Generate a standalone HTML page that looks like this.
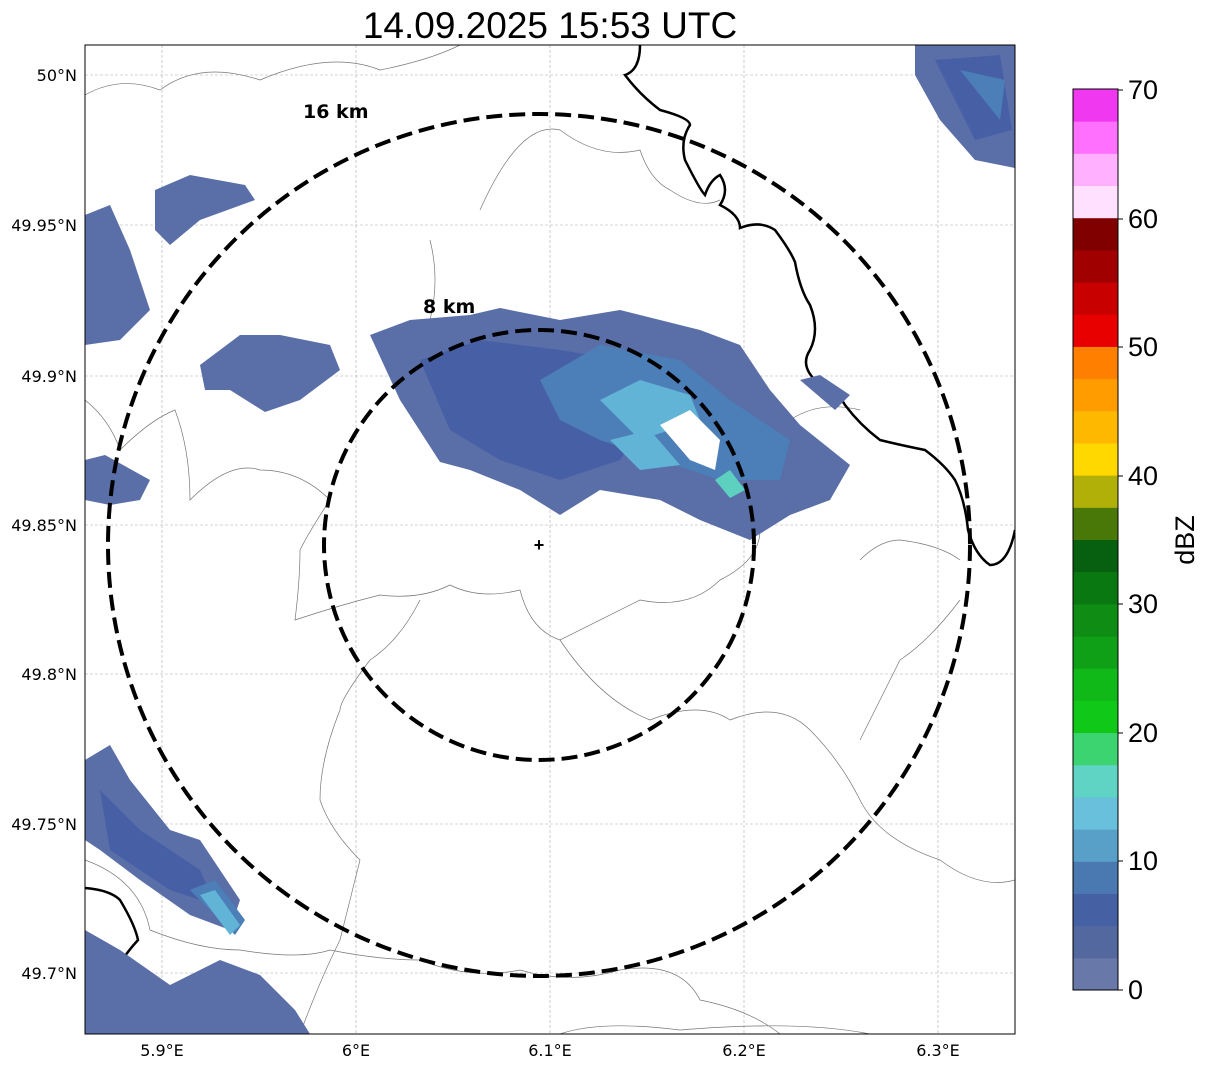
<!DOCTYPE html>
<html><head><meta charset="utf-8"><style>
body{margin:0;background:#fff;width:1207px;height:1069px;overflow:hidden;font-family:"Liberation Sans",sans-serif}
</style></head><body>
<svg width="1207" height="1069" xmlns="http://www.w3.org/2000/svg" font-family="Liberation Sans, sans-serif">
<text x="550" y="38" font-size="37" text-anchor="middle">14.09.2025 15:53 UTC</text>
<defs><clipPath id="c"><rect x="85" y="45" width="930" height="989"/></clipPath></defs>
<g clip-path="url(#c)">
<g stroke="#aaa" stroke-width="0.6" stroke-dasharray="3,2">
<line x1="162" y1="45" x2="162" y2="1034"/><line x1="356" y1="45" x2="356" y2="1034"/><line x1="550" y1="45" x2="550" y2="1034"/><line x1="744" y1="45" x2="744" y2="1034"/><line x1="938" y1="45" x2="938" y2="1034"/>
<line x1="85" y1="75" x2="1015" y2="75"/><line x1="85" y1="225" x2="1015" y2="225"/><line x1="85" y1="376" x2="1015" y2="376"/><line x1="85" y1="525" x2="1015" y2="525"/><line x1="85" y1="674" x2="1015" y2="674"/><line x1="85" y1="824" x2="1015" y2="824"/><line x1="85" y1="973" x2="1015" y2="973"/>
</g>
<g fill="none" stroke="#777" stroke-width="0.7">
<path d="M85,95 Q120,75 160,90 Q200,60 260,80 Q330,50 380,70 Q430,60 460,45"/>
<path d="M85,400 Q110,420 120,450 Q150,420 175,410 Q190,450 190,500 Q230,460 260,470 Q300,470 330,500 Q310,530 300,550 Q300,580 295,620 Q340,605 380,595 Q420,600 450,585 Q480,600 520,590 Q530,630 560,640 Q600,620 640,600 Q690,610 720,580 Q760,560 760,530 Q780,480 790,420 Q820,400 860,410"/>
<path d="M420,600 Q400,640 370,660 Q340,700 340,710 Q320,760 320,800 Q330,830 360,860 Q350,900 340,940 Q320,980 300,1034"/>
<path d="M560,640 Q600,700 650,720 Q700,700 730,720 Q780,700 810,730 Q840,760 860,800 Q880,840 940,860 Q980,890 1015,880"/>
<path d="M430,240 Q440,280 430,320 M480,210 Q520,120 560,130 Q600,160 640,150 Q650,180 670,190 Q700,210 720,200"/>
<path d="M860,560 Q880,540 900,540 Q940,545 960,560 M960,600 Q930,640 900,660 Q880,700 860,740"/>
<path d="M85,860 Q140,880 150,930 Q200,950 240,950 Q300,960 330,950 Q380,960 420,960 Q470,980 520,970 Q570,985 620,970 Q680,960 700,1000 Q750,1010 780,1034 M560,1034 Q600,1020 680,1030 Q800,1020 870,1034"/>
</g>
<g fill="none" stroke="#000" stroke-width="2.5">
<path d="M640,45 Q640,70 625,75 Q640,95 660,110 Q690,118 690,125 Q680,140 685,160 Q700,190 705,195 Q710,180 720,175 Q730,190 720,205 Q740,215 740,228 Q760,220 775,230 Q790,250 795,262 Q800,290 810,305 Q820,330 810,350 Q800,365 815,380 Q840,395 845,405 Q860,425 880,440 Q900,445 925,450 Q945,465 955,480 Q965,500 968,530 Q975,555 990,565 Q1008,565 1015,530"/>
<path d="M85,888 Q110,890 120,900 Q135,925 138,940 Q115,965 108,990 Q110,1015 120,1034"/>
</g>
<g fill="#5a6ea8">
<polygon points="915,45 1015,45 1015,168 975,160 940,120 915,75"/>
<polygon points="85,215 110,205 130,250 150,310 120,340 85,345"/>
<polygon points="155,190 190,175 245,185 255,200 200,220 170,245 155,230"/>
<polygon points="200,365 240,335 280,335 330,345 340,370 300,400 265,412 230,390 205,390"/>
<polygon points="85,460 105,455 150,480 140,500 110,505 85,500"/>
<polygon points="85,760 110,745 130,780 170,830 200,840 240,900 230,930 190,915 140,880 100,850 85,840"/>
<polygon points="85,930 120,950 170,985 220,960 260,975 295,1010 310,1034 85,1034"/>
<polygon points="370,335 410,320 470,315 500,308 560,320 620,310 700,330 740,345 770,390 800,425 850,465 830,500 790,515 750,540 700,520 660,500 600,490 560,515 520,490 470,470 440,462 400,400"/>
<polygon points="800,380 820,375 850,395 835,410"/>
</g>
<g fill="#4760a5">
<polygon points="420,360 480,340 560,350 620,360 660,400 620,460 560,480 500,460 450,430"/>
<polygon points="935,60 1000,55 1012,130 975,140"/>
<polygon points="100,790 140,830 200,870 215,905 170,890 110,850"/>
</g>
<g fill="#4c7eb8">
<polygon points="540,380 600,345 680,360 730,400 790,440 780,480 720,480 660,460 600,440 560,420"/>
<polygon points="960,70 1005,80 1000,120"/>
<polygon points="190,890 215,880 245,920 235,935"/>
</g>
<g fill="#62b4d6">
<polygon points="600,400 640,380 690,395 700,420 640,440"/>
<polygon points="610,440 650,430 680,465 640,470"/>
<polygon points="200,895 215,890 240,925 230,935"/>
</g>
<polygon points="660,425 690,410 720,440 715,470 690,460" fill="#fff"/>
<polygon points="715,480 730,470 745,490 730,498" fill="#5ed0c0"/>
</g>
<circle cx="539" cy="545" r="431" fill="none" stroke="#000" stroke-width="4" stroke-dasharray="16,7"/>
<circle cx="539" cy="545" r="215" fill="none" stroke="#000" stroke-width="4" stroke-dasharray="16,7"/>
<text x="539" y="551" font-size="18" font-weight="bold" text-anchor="middle">+</text>
<text x="303" y="118" font-size="19" font-weight="bold" font-family="DejaVu Sans, sans-serif">16 km</text>
<text x="423" y="313" font-size="19" font-weight="bold" font-family="DejaVu Sans, sans-serif">8 km</text>
<rect x="85" y="45" width="930" height="989" fill="none" stroke="#000" stroke-width="1"/>
<g font-size="16" text-anchor="middle" font-family="DejaVu Sans, sans-serif">
<text x="162" y="1056">5.9°E</text><text x="356" y="1056">6°E</text><text x="550" y="1056">6.1°E</text><text x="744" y="1056">6.2°E</text><text x="938" y="1056">6.3°E</text>
</g>
<g font-size="16" text-anchor="end" font-family="DejaVu Sans, sans-serif">
<text x="77" y="81">50°N</text><text x="77" y="231">49.95°N</text><text x="77" y="382">49.9°N</text><text x="77" y="531">49.85°N</text><text x="77" y="680">49.8°N</text><text x="77" y="830">49.75°N</text><text x="77" y="979">49.7°N</text>
</g>
<g id="cb"></g>
<rect x="1073" y="89" width="45" height="901" fill="none" stroke="#000" stroke-width="1"/>
<g font-size="27">
<text x="1128" y="999">0</text><text x="1128" y="870">10</text><text x="1128" y="742">20</text><text x="1128" y="613">30</text><text x="1128" y="485">40</text><text x="1128" y="356">50</text><text x="1128" y="228">60</text><text x="1128" y="99">70</text>
</g>
<g stroke="#000"><line x1="1118" y1="990" x2="1123" y2="990"/><line x1="1118" y1="861" x2="1123" y2="861"/><line x1="1118" y1="733" x2="1123" y2="733"/><line x1="1118" y1="604" x2="1123" y2="604"/><line x1="1118" y1="476" x2="1123" y2="476"/><line x1="1118" y1="347" x2="1123" y2="347"/><line x1="1118" y1="219" x2="1123" y2="219"/><line x1="1118" y1="90" x2="1123" y2="90"/></g>
<text x="1194" y="540" font-size="27" text-anchor="middle" transform="rotate(-90 1194 540)">dBZ</text>
</svg>
<script>
var c=["#6878a8","#5468a0","#4660a4","#4a78b0","#58a0c8","#68c0dc","#60d4c4","#3cd470","#10c818","#10b818","#10a018","#0e8c14","#0a7810","#066010","#4a7808","#b0b008","#ffd800","#ffb800","#ff9c00","#ff8000","#e80000","#c80000","#a00000","#800000","#ffe0ff","#ffb0ff","#ff70ff","#f038f0"];
var g=document.getElementById("cb"),h=901/28,s="";
for(var i=0;i<28;i++){s+='<rect x="1073" y="'+(990-(i+1)*h)+'" width="45" height="'+(h+0.5)+'" fill="'+c[i]+'"/>';}
g.innerHTML=s;
</script>
</body></html>
